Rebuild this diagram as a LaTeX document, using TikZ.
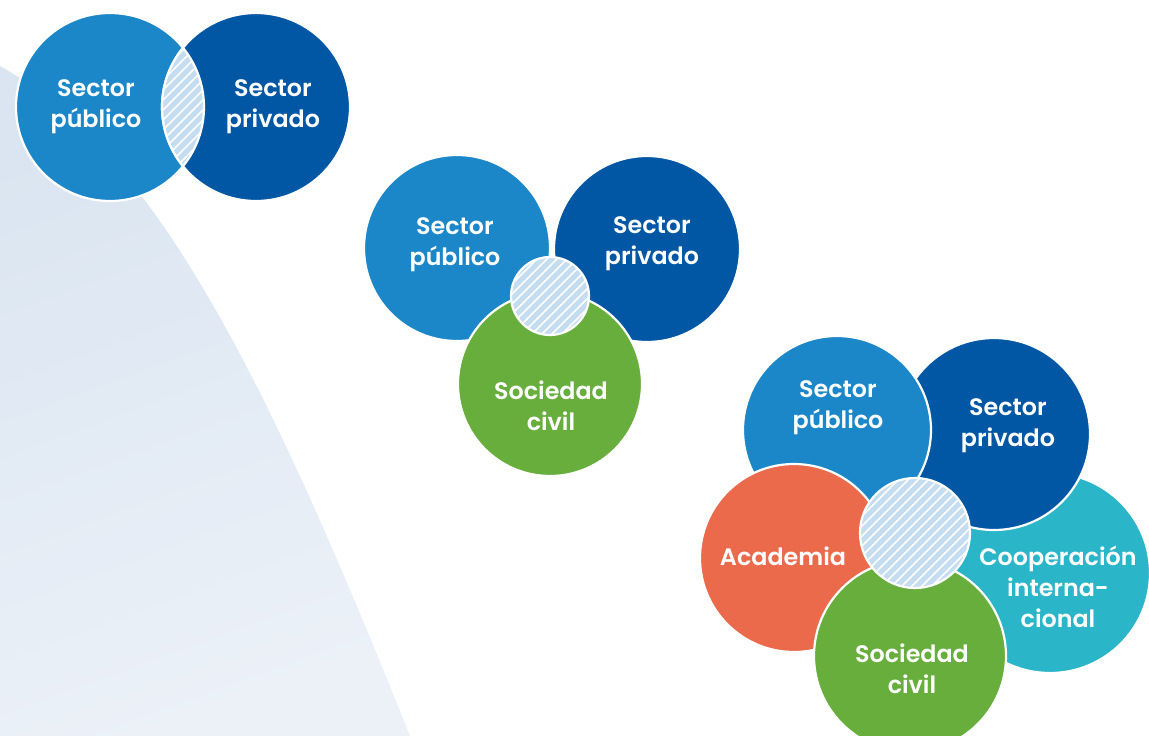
\documentclass[tikz,border=0pt]{standalone}
\usepackage{fontspec}
\setmainfont{Poppins}[BoldFont={Poppins SemiBold}]
\definecolor{pubblue}{HTML}{1B87C9}
\definecolor{privblue}{HTML}{0257A5}
\definecolor{civgreen}{HTML}{67AE3D}
\definecolor{acaorange}{HTML}{EC6A4C}
\definecolor{coopcyan}{HTML}{2AB5C8}
\definecolor{hatchblue}{HTML}{C4DDF0}
\definecolor{bgtop}{HTML}{DAE5F1}
\definecolor{bgbot}{HTML}{ECF1F8}
\tikzset{
  venn/.style={circle, draw=white, line width=2.2pt, inner sep=0pt, minimum size=#1},
  lbl/.style={text=white, font=\bfseries\fontsize{23.8}{31}\selectfont, align=center, inner sep=0pt, yshift=-4pt},
  hatchline/.style={white, line width=1.6pt},
}
\newcommand{\myhatch}[1]{%
  \foreach \i in {-160,-150,...,160} {
    \draw[hatchline] ([shift={(\i-130,130)}]#1) -- ([shift={(\i+130,-130)}]#1);
  }%
}
\begin{document}
\begin{tikzpicture}[x=1pt,y=-1pt]
\useasboundingbox (0,0) rectangle (1149,736);
% background
\shade[top color=bgtop, bottom color=bgbot, shading angle=20]
  (0,66) .. controls (150,150) and (260,360) .. (410,736) -- (0,736) -- cycle;

% ---------- group 1 ----------
\node[venn=188pt, fill=pubblue] (a1) at (110,107) {};
\node[venn=188pt, fill=privblue] (a2) at (256,107) {};
\begin{scope}
  \clip (a1.center) circle (94);
  \clip (a2.center) circle (94);
  \fill[hatchblue] (a2.center) circle (94);
  \myhatch{a2.center}
\end{scope}
\begin{scope}
  \clip (a1.center) circle (94);
  \draw[white, line width=2.2pt] (a2.center) circle (94);
\end{scope}
\begin{scope}
  \clip (a2.center) circle (94);
  \draw[white, line width=2.2pt] (a1.center) circle (94);
\end{scope}
\node[lbl] (t1) at (96,103) {Sector\\público};
\node[lbl] (t2) at (273,103) {Sector\\privado};

% ---------- group 2 ----------
\node[venn=186pt, fill=pubblue] (b1) at (457,248) {};
\node[venn=186pt, fill=privblue] (b2) at (647,249) {};
\node[venn=184pt, fill=civgreen] (b3) at (550,384) {};
\node[venn=78pt, fill=hatchblue, draw=none] (bh) at (550,296) {};
\begin{scope}
  \clip (bh.center) circle (39);
  \myhatch{bh.center}
\end{scope}
\draw[white, line width=2.2pt] (bh.center) circle (39);
\node[lbl] (t3) at (455,241) {Sector\\público};
\node[lbl] (t4) at (652,240) {Sector\\privado};
\node[lbl] (t5) at (551,402) {Sociedad\\civil};

% ---------- group 3 ----------
\node[venn=200pt, fill=coopcyan] (c5) at (1050,573) {};
\node[venn=192pt, fill=privblue] (c2) at (994,434) {};
\node[venn=188pt, fill=pubblue] (c1) at (837,430) {};
\node[venn=188pt, fill=acaorange] (c4) at (794,558) {};
\node[venn=192pt, fill=civgreen] (c3) at (910,656) {};
\node[venn=110pt, fill=hatchblue, draw=none] (ch) at (915,533) {};
\begin{scope}
  \clip (ch.center) circle (55);
  \myhatch{ch.center}
\end{scope}
\draw[white, line width=2.2pt] (ch.center) circle (55);
\node[lbl] (t6) at (838,404) {Sector\\público};
\node[lbl] (t7) at (1008,422) {Sector\\privado};
\node[lbl] (t8) at (783,552) {Academia};
\node[lbl] (t9) at (1058,583) {Cooperación\\interna-\\cional};
\node[lbl] (t10) at (912,665) {Sociedad\\civil};
\end{tikzpicture}
\end{document}
